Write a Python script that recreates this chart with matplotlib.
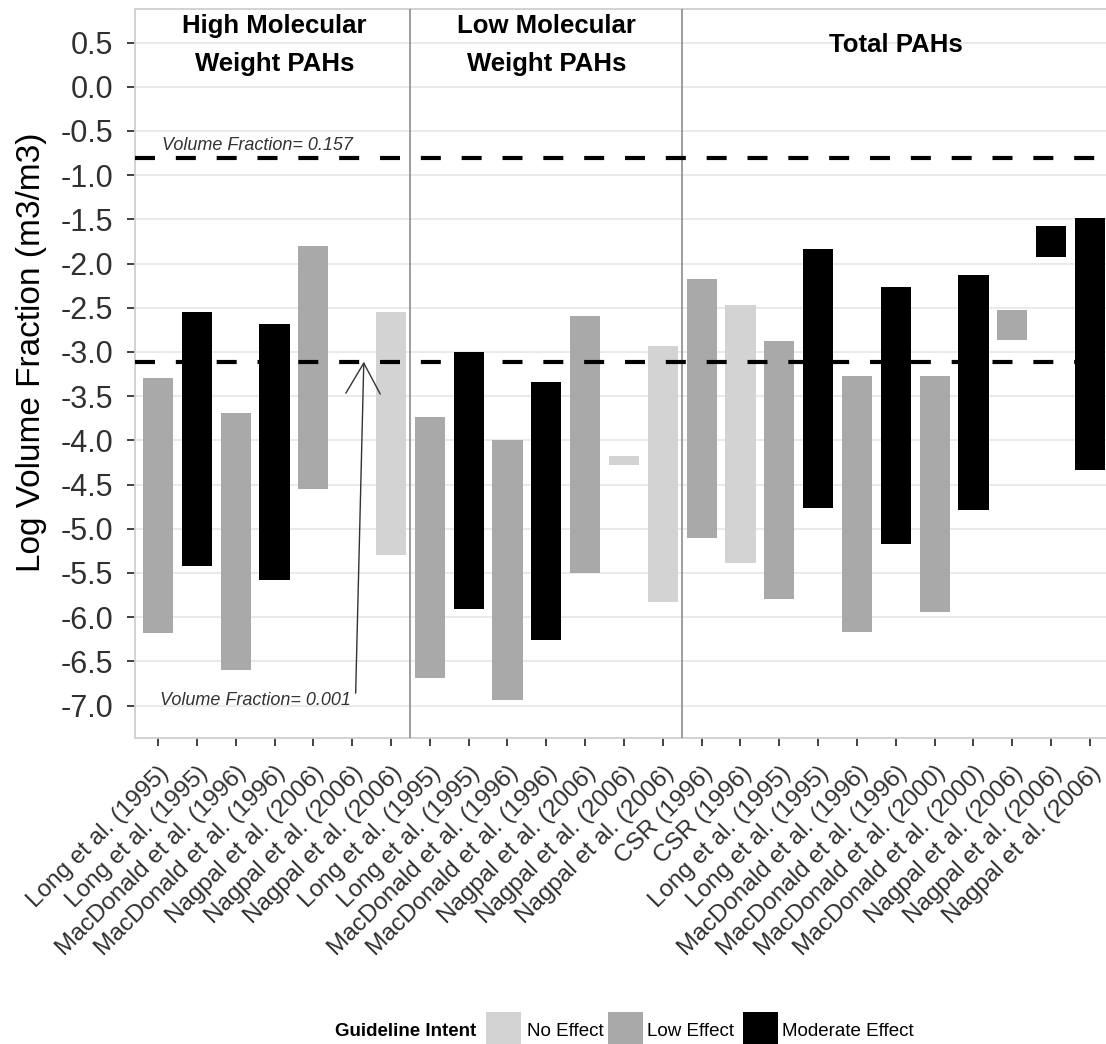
import matplotlib
matplotlib.use('Agg')
import matplotlib.pyplot as plt
import numpy as np
from matplotlib.patches import Rectangle
from matplotlib.transforms import ScaledTranslation

plt.rcParams['font.family'] = ['Liberation Sans', 'DejaVu Sans']

# ---------------- data ----------------
group_titles = ['High Molecular\nWeight PAHs', 'Low Molecular\nWeight PAHs', 'Total PAHs']
group_sizes = [7, 7, 11]

labels = [
    'Long et al. (1995)', 'Long et al. (1995)', 'MacDonald et al. (1996)', 'MacDonald et al. (1996)',
    'Nagpal et al. (2006)', 'Nagpal et al. (2006)', 'Nagpal et al. (2006)',
    'Long et al. (1995)', 'Long et al. (1995)', 'MacDonald et al. (1996)', 'MacDonald et al. (1996)',
    'Nagpal et al. (2006)', 'Nagpal et al. (2006)', 'Nagpal et al. (2006)',
    'CSR (1996)', 'CSR (1996)', 'Long et al. (1995)', 'Long et al. (1995)',
    'MacDonald et al. (1996)', 'MacDonald et al. (1996)', 'MacDonald et al. (2000)', 'MacDonald et al. (2000)',
    'Nagpal et al. (2006)', 'Nagpal et al. (2006)', 'Nagpal et al. (2006)',
]

intent = [
    'Low Effect', 'Moderate Effect', 'Low Effect', 'Moderate Effect', 'Low Effect', 'Low Effect', 'No Effect',
    'Low Effect', 'Moderate Effect', 'Low Effect', 'Moderate Effect', 'Low Effect', 'No Effect', 'No Effect',
    'Low Effect', 'No Effect', 'Low Effect', 'Moderate Effect', 'Low Effect', 'Moderate Effect',
    'Low Effect', 'Moderate Effect', 'Low Effect', 'Moderate Effect', 'Moderate Effect',
]

lower = [
    -6.18, -5.42, -6.60, -5.58, -4.55, np.nan, -5.30,
    -6.69, -5.91, -6.94, -6.26, -5.50, -4.28, -5.83,
    -5.10, -5.39, -5.80, -4.76, -6.17, -5.17, -5.94, -4.79, -2.86, -1.93, -4.33,
]
upper = [
    -3.29, -2.545, -3.69, -2.68, -1.80, np.nan, -2.545,
    -3.74, -3.00, -4.00, -3.34, -2.59, -4.18, -2.93,
    -2.18, -2.47, -2.88, -1.84, -3.27, -2.27, -3.27, -2.13, -2.52, -1.57, -1.48,
]

guide_levels = ['No Effect', 'Low Effect', 'Moderate Effect']
guide_colors = ['#D3D3D3', '#A9A9A9', '#000000']
guide_values = [np.log10(0.157), -3.11]
guide_texts = ['Volume Fraction= 0.157', 'Volume Fraction= 0.001']
yticks = np.arange(0.5, -7.01, -0.5)

# ---------------- figure ----------------
W, H = 1106, 1044
fig = plt.figure(figsize=(W / 100, H / 100), dpi=100)

def fx(px):
    return px / W

def fy(py):
    return 1 - py / H

left_px, right_px, top_px, bot_px = 134.7, 1113.3, 9.3, 738
ax = fig.add_axes([fx(left_px), fy(bot_px), (right_px - left_px) / W, (bot_px - top_px) / H])

x = np.arange(1, len(labels) + 1)
lo = np.array(lower)
hi = np.array(upper)
cmap = dict(zip(guide_levels, guide_colors))
cols = [cmap[i] for i in intent]
ax.bar(x, hi - lo, bottom=lo, width=0.78, color=cols, linewidth=0, zorder=2)

ax.set_xlim(0.4, 25.6)
ax.set_ylim(-7.367, 0.876)

# grid
ax.set_yticks(yticks)
ax.set_yticklabels([f'{v:.1f}' for v in yticks])
ax.yaxis.grid(True, color='#E6E6E6', linewidth=1.2, zorder=0)
ax.set_axisbelow(True)

# separators between groups
bounds = np.cumsum(group_sizes)[:-1] + 0.5
for b in bounds:
    ax.axvline(b, color='#8C8C8C', linewidth=1.2, zorder=3)

# dashed guideline lines
for gv in guide_values:
    ln = ax.axhline(gv, color='black', linewidth=3.0, zorder=4)
    ln.set_dashes((4.8, 5.0))

# group titles
starts = np.concatenate([[0], np.cumsum(group_sizes)[:-1]])
for t, s, n in zip(group_titles, starts, group_sizes):
    cx = s + (n + 1) / 2.0
    ax.text(cx, 0.475, t, ha='center', va='center', fontsize=18.5, fontweight='bold',
            linespacing=1.75, color='black', zorder=5)

# annotations
ax.text(3.55, -0.667, guide_texts[0], ha='center', va='center', fontsize=13, style='italic',
        color='#333333', zorder=5)
ax.text(3.50, -6.94, guide_texts[1], ha='center', va='center', fontsize=13, style='italic',
        color='#333333', zorder=5)
ax.annotate('', xy=(6.30, guide_values[1]), xytext=(6.09, -6.86),
            arrowprops=dict(arrowstyle='->,head_length=1.1,head_width=0.62', color='#333333',
                            linewidth=1.0, mutation_scale=20, shrinkA=0, shrinkB=0), zorder=5)

# axes styling
for side in ['top', 'bottom', 'left', 'right']:
    ax.spines[side].set_color('#CFCFCF')
    ax.spines[side].set_linewidth(1.3)

ax.set_xticks(x)
ax.set_xticklabels(labels, rotation=45, ha='right', va='top', rotation_mode='anchor',
                   fontsize=17.5, color='#303030')
off = ScaledTranslation(3 / 100, 0, fig.dpi_scale_trans)
for lab in ax.get_xticklabels():
    lab.set_transform(lab.get_transform() + off)
ax.tick_params(axis='x', length=6, width=1.3, color='#333333', pad=11)
ax.tick_params(axis='y', length=6, width=1.3, color='#333333', pad=9.5, labelsize=22, labelcolor='#303030')

ax.set_ylabel('Log Volume Fraction (m3/m3)', fontsize=24, color='black', labelpad=10)
ax.yaxis.label.set_y(0.53)

# legend (manual)
fig.text(fx(335), fy(1031), 'Guideline Intent', fontsize=13.5, fontweight='bold',
         ha='left', va='center')
key_x = [486, 608, 743]
txt_x = [527, 647, 782]
for kx, tx, lev, c in zip(key_x, txt_x, guide_levels, guide_colors):
    fig.patches.append(Rectangle((fx(kx), fy(1050)), 35 / W, 38 / H, transform=fig.transFigure,
                                 facecolor=c, edgecolor='none'))
    fig.text(fx(tx), fy(1031), lev, fontsize=13.5, ha='left', va='center')

fig.savefig('out.png', dpi=100)
